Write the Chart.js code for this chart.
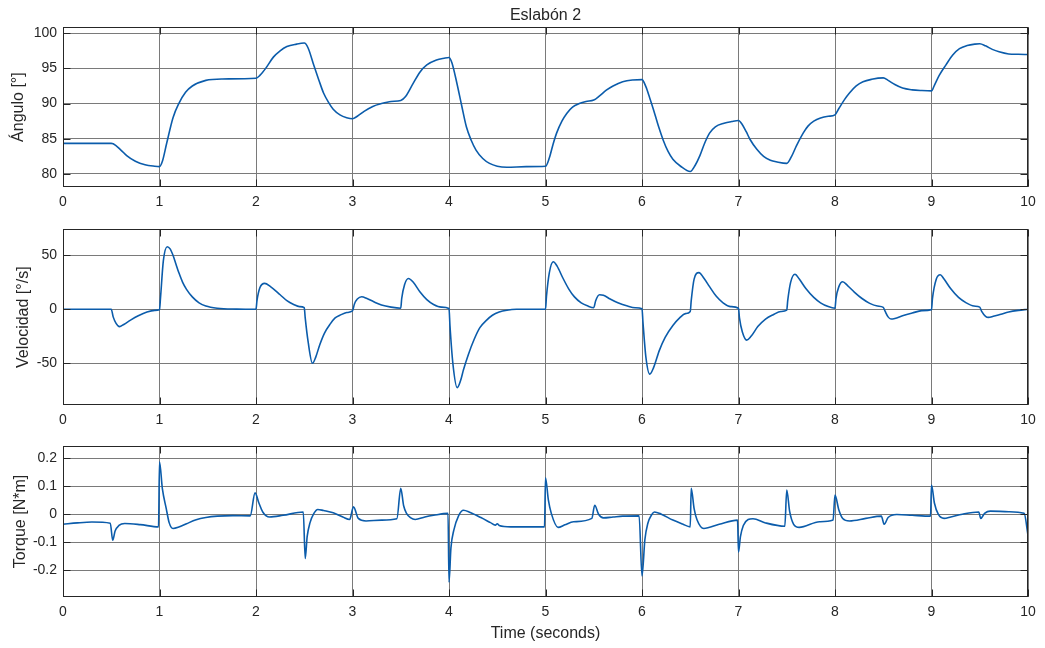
<!DOCTYPE html>
<html>
<head>
<meta charset="utf-8">
<script src="https://cdn.jsdelivr.net/npm/chart.js@4/dist/chart.umd.min.js"></script>
<style>
  body { margin: 0; background: #fff; }
  #wrap { position: relative; width: 1045px; height: 648px; }
  canvas { position: absolute; left: 0; }
</style>
</head>
<body>
<div id="wrap">
  <canvas id="c1" width="1045" height="215" style="top:0px"></canvas>
  <canvas id="c2" width="1045" height="213" style="top:215px"></canvas>
  <canvas id="c3" width="1045" height="220" style="top:428px"></canvas>
</div>
<script>
// tick labels
const timeTicks = [0, 1, 2, 3, 4, 5, 6, 7, 8, 9, 10];
const angleTicks = [80, 85, 90, 95, 100];
const velTicks = [-50, 0, 50];
const torqueTicks = [-0.2, -0.1, 0, 0.1, 0.2];

// angle [deg]
const angleT = [0, 0.5, 0.52, 0.6, 0.66, 0.75, 0.85, 0.95, 1.0,
  1.03, 1.075, 1.14, 1.2, 1.27, 1.34, 1.48, 1.65, 2.0,
  2.04, 2.1, 2.18, 2.25, 2.32, 2.42, 2.5,
  2.54, 2.6, 2.65, 2.7, 2.75, 2.8, 2.87, 2.94, 3.0,
  3.05, 3.12, 3.21, 3.3, 3.4, 3.5,
  3.55, 3.63, 3.7, 3.77, 3.87, 3.95, 4.0,
  4.03, 4.08, 4.13, 4.18, 4.23, 4.28, 4.35, 4.42, 4.5, 4.6, 4.8, 5.0,
  5.04, 5.08, 5.115, 5.17, 5.22, 5.28, 5.35, 5.42, 5.5,
  5.56, 5.63, 5.7, 5.8, 5.9, 6.0,
  6.04, 6.08, 6.12, 6.17, 6.22, 6.27, 6.32, 6.4, 6.5,
  6.55, 6.6, 6.65, 6.7, 6.76, 6.85, 6.93, 7.0,
  7.04, 7.08, 7.12, 7.19, 7.26, 7.33, 7.4, 7.5,
  7.55, 7.6, 7.67, 7.72, 7.78, 7.85, 7.93, 8.0,
  8.04, 8.1, 8.15, 8.22, 8.29, 8.38, 8.5,
  8.55, 8.62, 8.7, 8.8, 8.9, 9.0,
  9.03, 9.08, 9.15, 9.22, 9.29, 9.37, 9.45, 9.5,
  9.56, 9.63, 9.7, 9.8, 9.9, 10.0];
const angleV = [84.35, 84.35, 84.3, 83.4, 82.6, 81.8, 81.3, 81.1, 81.05,
  81.8, 84.4, 88.0, 90.0, 91.6, 92.5, 93.3, 93.5, 93.6,
  94.0, 95.0, 96.6, 97.5, 98.1, 98.45, 98.6,
  97.9, 95.4, 93.4, 91.5, 90.2, 89.2, 88.4, 88.0, 87.85,
  88.2, 88.9, 89.6, 90.0, 90.3, 90.45,
  91.0, 92.9, 94.5, 95.5, 96.2, 96.45, 96.55,
  95.8, 93.0, 89.8, 86.7, 84.8, 83.4, 82.2, 81.5, 81.1, 80.95, 81.05, 81.1,
  82.3, 84.3, 85.8, 87.5, 88.6, 89.5, 90.0, 90.3, 90.5,
  91.1, 91.9, 92.5, 93.1, 93.35, 93.4,
  92.4, 90.8, 89.1, 86.8, 84.8, 83.2, 82.1, 81.1, 80.35,
  81.2, 82.6, 84.4, 85.8, 86.7, 87.2, 87.45, 87.6,
  87.0, 86.0, 84.9, 83.5, 82.5, 81.95, 81.7, 81.5,
  82.5, 84.0, 85.8, 86.8, 87.5, 87.95, 88.2, 88.4,
  89.3, 90.6, 91.5, 92.5, 93.1, 93.45, 93.65,
  93.3, 92.7, 92.2, 91.95, 91.85, 91.8,
  92.6, 94.0, 95.5, 96.9, 97.8, 98.25, 98.45, 98.5,
  98.2, 97.7, 97.35, 97.05, 97.0, 96.97];

// velocity [deg/s]
const velT = [0, 0.5, 0.52, 0.55, 0.585, 0.63, 0.7, 0.78, 0.87, 0.95, 1.0,
  1.01, 1.04, 1.08, 1.11, 1.14, 1.17, 1.2, 1.24, 1.28, 1.34, 1.41, 1.48, 1.6, 1.8, 2.0,
  2.01, 2.04, 2.09, 2.15, 2.25, 2.32, 2.39, 2.45, 2.5,
  2.51, 2.54, 2.585, 2.62, 2.66, 2.71, 2.77, 2.82, 2.87, 2.94, 3.0,
  3.02, 3.05, 3.095, 3.15, 3.22, 3.3, 3.4, 3.5,
  3.51, 3.54, 3.58, 3.63, 3.7, 3.77, 3.84, 3.92, 4.0,
  4.01, 4.04, 4.085, 4.12, 4.15, 4.2, 4.26, 4.32, 4.39, 4.45, 4.52, 4.6, 4.7, 5.0,
  5.01, 5.04, 5.08, 5.12, 5.18, 5.24, 5.3, 5.37, 5.44, 5.5,
  5.52, 5.56, 5.6, 5.67, 5.75, 5.85, 5.93, 6.0,
  6.01, 6.04, 6.08, 6.12, 6.18, 6.24, 6.32, 6.39, 6.45, 6.5,
  6.51, 6.54, 6.59, 6.64, 6.7, 6.77, 6.84, 6.92, 7.0,
  7.01, 7.04, 7.085, 7.13, 7.2, 7.28, 7.36, 7.44, 7.5,
  7.51, 7.54, 7.585, 7.63, 7.7, 7.78, 7.85, 7.93, 8.0,
  8.01, 8.04, 8.08, 8.13, 8.2, 8.28, 8.36, 8.44, 8.5,
  8.52, 8.55, 8.58, 8.62, 8.7, 8.8, 8.9, 9.0,
  9.01, 9.05, 9.09, 9.13, 9.2, 9.28, 9.36, 9.44, 9.5,
  9.52, 9.56, 9.59, 9.64, 9.72, 9.8, 9.9, 10.0];
const velV = [0, 0, -7, -13, -16, -14, -10, -6, -2.5, -1, -0.5,
  10, 45, 58, 56, 50, 42, 34, 25, 18.5, 11.5, 6, 3, 1, 0.2, 0,
  8, 20, 24, 21, 13.5, 8, 4.5, 2.5, 1.5,
  -8, -30, -50, -44, -33, -22, -13.5, -8, -5.5, -3, -1.5,
  5, 9.5, 11.7, 10, 7, 4, 2, 1,
  10, 23, 28.5, 25, 16, 9, 4.5, 2, 0.8,
  -15, -50, -72.5, -66, -56, -42, -28, -17, -10, -5.5, -2.5, -0.8, 0, 0,
  12, 34, 44, 40, 29, 19, 11.5, 6, 3, 1.5,
  8, 13.5, 13, 9.5, 6, 3, 1.5, 0.5,
  -12, -44, -60, -54, -38, -26, -15, -8, -4, -2,
  8, 28, 34, 29, 21, 12, 6, 2.5, 1,
  -8, -21, -28.5, -25, -16, -9, -5, -2, -0.8,
  8, 25, 32.5, 28, 19, 11, 6, 2.5, 1,
  10, 21, 25.5, 22, 16, 10, 5.5, 3, 1.8,
  -2, -7, -9, -8.5, -6, -3.5, -1.2, -0.3,
  10, 28, 32, 28, 19, 11, 6, 3, 2,
  -2, -6.5, -7.5, -6.5, -4.5, -2.5, -1, 0];

// torque [N*m]
const torqueT = [0, 0.15, 0.3, 0.49, 0.515, 0.54, 0.58, 0.64, 0.8, 0.99,
  1.0, 1.03, 1.07, 1.1, 1.14, 1.2, 1.28, 1.38, 1.48, 1.6, 1.76, 1.94,
  1.99, 2.03, 2.07, 2.14, 2.28, 2.49,
  2.51, 2.53, 2.56, 2.6, 2.64, 2.7, 2.8, 2.9, 2.97,
  3.01, 3.06, 3.14, 3.3, 3.46,
  3.5, 3.53, 3.56, 3.6, 3.65, 3.75, 3.84, 3.99,
  4.0, 4.02, 4.05, 4.1, 4.15, 4.22, 4.33, 4.43, 4.48, 4.5, 4.52, 4.64, 4.99,
  5.0, 5.03, 5.06, 5.13, 5.2, 5.29, 5.48,
  5.51, 5.55, 5.6, 5.7, 5.8, 5.97,
  6.0, 6.03, 6.06, 6.1, 6.13, 6.2, 6.32, 6.42, 6.5,
  6.51, 6.54, 6.57, 6.64, 6.8, 6.99,
  7.0, 7.02, 7.05, 7.1, 7.15, 7.28, 7.48,
  7.5, 7.53, 7.57, 7.63, 7.84, 7.98,
  8.0, 8.04, 8.08, 8.15, 8.32, 8.48,
  8.51, 8.55, 8.64, 8.8, 8.99,
  9.0, 9.03, 9.07, 9.13, 9.2, 9.32, 9.49,
  9.51, 9.55, 9.61, 9.8, 9.96, 10.0];
const torqueV = [-0.036, -0.031, -0.028, -0.032, -0.093, -0.06, -0.04, -0.033, -0.037, -0.045,
  0.187, 0.09, 0.02, -0.03, -0.051, -0.046, -0.034, -0.02, -0.012, -0.007, -0.005, -0.006,
  0.076, 0.04, 0.008, -0.01, -0.004, 0.008,
  -0.158, -0.08, -0.03, 0.003, 0.017, 0.013, 0.005, -0.01, -0.019,
  0.026, -0.015, -0.024, -0.021, -0.016,
  0.092, 0.03, 0.003, -0.012, -0.019, -0.01, -0.004, 0.003,
  -0.242, -0.12, -0.057, -0.005, 0.014, 0.006, -0.012, -0.03, -0.039, -0.034, -0.04, -0.045, -0.045,
  0.13, 0.05, 0.003, -0.047, -0.038, -0.027, -0.015,
  0.032, 0.0, -0.013, -0.01, -0.007, -0.006,
  -0.22, -0.09, -0.033, -0.002, 0.008, 0.0, -0.021, -0.035, -0.045,
  0.092, 0.02, -0.02, -0.051, -0.036, -0.021,
  -0.135, -0.08, -0.04, -0.019, -0.016, -0.031, -0.043,
  0.086, 0.01, -0.035, -0.047, -0.027, -0.021,
  0.068, 0.015, -0.015, -0.024, -0.015, -0.007,
  -0.036, -0.012, -0.001, -0.004, -0.007,
  0.104, 0.04, 0.0, -0.015, -0.01, 0.0, 0.008,
  -0.015, 0.003, 0.011, 0.009, 0.003, -0.075];

const textColor = '#262626';
const gridColor = '#7a7a7a';
const lineColor = '#0b5cab';

// MATLAB style box with inward ticks
const boxPlugin = {
  id: 'box',
  afterDraw(chart) {
    const {ctx, chartArea: a, scales} = chart;
    const l = Math.round(a.left) + 0.5, r = Math.round(a.right) - 0.5;
    const t = Math.round(a.top) + 0.5, b = Math.round(a.bottom) - 0.5;
    ctx.save();
    ctx.strokeStyle = textColor;
    ctx.lineWidth = 1;
    ctx.beginPath();
    scales.y.ticks.forEach(tk => {
      const y = Math.round(scales.y.getPixelForValue(tk.value)) + 0.5;
      ctx.moveTo(l, y); ctx.lineTo(l + 7, y);
      ctx.moveTo(r, y); ctx.lineTo(r - 7, y);
    });
    scales.x.ticks.forEach(tk => {
      const x = Math.round(scales.x.getPixelForValue(tk.value)) + 0.5;
      ctx.moveTo(x, b); ctx.lineTo(x, b - 7);
      ctx.moveTo(x, t); ctx.lineTo(x, t + 7);
    });
    ctx.stroke();
    ctx.strokeRect(l, t, r - l, b - t);
    ctx.restore();
  }
};

function makeChart(id, times, values, yTicks, yMin, yMax, yLabel, cfg) {
  const points = times.map((t, i) => ({x: t, y: values[i]}));
  return new Chart(document.getElementById(id), {
    type: 'line',
    data: {
      datasets: [{
        data: points,
        borderColor: lineColor,
        borderWidth: 1.6,
        pointRadius: 0,
        cubicInterpolationMode: 'monotone',
        fill: false
      }]
    },
    options: {
      responsive: false,
      animation: false,
      layout: {padding: {left: 0, right: 17, top: cfg.padTop, bottom: 0}},
      plugins: {
        legend: {display: false},
        tooltip: {enabled: false},
        title: {
          display: !!cfg.title,
          text: cfg.title || '',
          fullSize: false,
          color: textColor,
          font: {family: 'Liberation Sans', size: 16, weight: 'normal'},
          padding: {top: 6, bottom: 2}
        }
      },
      scales: {
        x: {
          type: 'linear',
          min: 0,
          max: 10,
          afterBuildTicks: s => { s.ticks = timeTicks.map(v => ({value: v})); },
          afterFit: s => { s.height = cfg.xHeight; },
          grid: {color: gridColor, drawTicks: false},
          border: {display: false},
          ticks: {color: textColor, padding: 7, maxRotation: 0,
            font: {family: 'Liberation Sans', size: 14}},
          title: {
            display: !!cfg.xTitle,
            text: cfg.xTitle || '',
            color: textColor,
            font: {family: 'Liberation Sans', size: 16},
            padding: {top: 0, bottom: 5}
          }
        },
        y: {
          min: yMin,
          max: yMax,
          afterBuildTicks: s => { s.ticks = yTicks.map(v => ({value: v})); },
          afterFit: s => { s.width = 63; },
          grid: {color: gridColor, drawTicks: false},
          border: {display: false},
          ticks: {color: textColor, padding: 6,
            font: {family: 'Liberation Sans', size: 14},
            callback: v => String(Math.round(v * 1000) / 1000)},
          title: {
            display: true,
            text: yLabel,
            color: textColor,
            font: {family: 'Liberation Sans', size: 16},
            padding: {top: cfg.yTitlePad, bottom: 0}
          }
        }
      }
    },
    plugins: [boxPlugin]
  });
}

makeChart('c1', angleT, angleV, angleTicks, 78.15, 100.85, 'Ángulo [°]',
  {padTop: 0, xHeight: 28, title: 'Eslabón 2', yTitlePad: 9});
makeChart('c2', velT, velV, velTicks, -88.6, 74, 'Velocidad [°/s]',
  {padTop: 14, xHeight: 23, yTitlePad: 14});
makeChart('c3', torqueT, torqueV, torqueTicks, -0.295, 0.243, 'Torque [N*m]',
  {padTop: 18, xHeight: 51, xTitle: 'Time (seconds)', yTitlePad: 11});
</script>
</body>
</html>
